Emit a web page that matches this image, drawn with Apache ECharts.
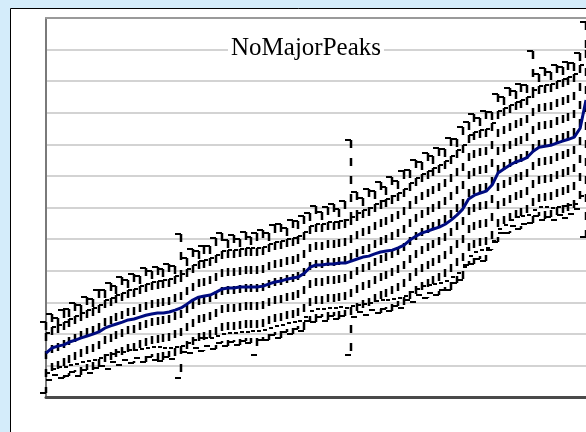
<!DOCTYPE html>
<html>
<head>
<meta charset="utf-8">
<script src="https://cdn.jsdelivr.net/npm/echarts@6/dist/echarts.min.js"></script>
<style>
html,body{margin:0;padding:0;background:#d4ecfa;}
#chart{width:586px;height:432px;}
</style>
</head>
<body>
<div id="chart"></div>
<script>
const categories = ["1","2","3","4","5","6","7","8","9","10","11","12","13","14","15","16","17","18","19","20","21","22","23","24","25","26","27","28","29","30","31","32","33","34","35","36","37","38","39","40","41","42","43","44","45","46","47","48","49","50","51","52","53","54","55","56","57","58","59","60","61","62","63","64","65","66","67","68","69","70","71","72","73","74","75","76","77","78","79","80","81","82","83","84","85","86","87","88","89","90","91","92","93"];

const medianValues = [1.39,1.55,1.61,1.65,1.74,1.80,1.87,1.93,1.99,2.06,
 2.18,2.25,2.31,2.37,2.44,2.47,2.53,2.59,2.63,2.66,
 2.66,2.69,2.75,2.82,2.94,3.07,3.16,3.20,3.23,3.32,
 3.42,3.45,3.45,3.48,3.48,3.48,3.48,3.51,3.58,3.64,
 3.67,3.73,3.77,3.80,3.92,4.11,4.18,4.18,4.21,4.21,
 4.24,4.24,4.30,4.37,4.43,4.46,4.53,4.59,4.62,4.65,
 4.72,4.81,4.97,5.09,5.19,5.25,5.32,5.38,5.47,5.60,
 5.76,5.95,6.27,6.39,6.46,6.52,6.71,7.09,7.22,7.34,
 7.44,7.50,7.59,7.78,7.91,7.94,7.97,8.04,8.10,8.16,
 8.23,8.51,9.40];

const upperValues = [2.02,2.21,2.29,2.36,2.47,2.56,2.66,2.74,2.83,2.92,
 3.07,3.15,3.23,3.30,3.39,3.43,3.51,3.58,3.64,3.68,
 3.70,3.75,3.82,3.91,4.04,4.19,4.30,4.35,4.40,4.50,
 4.62,4.66,4.66,4.70,4.71,4.72,4.72,4.76,4.84,4.90,
 4.94,5.01,5.05,5.09,5.21,5.41,5.49,5.49,5.53,5.53,
 5.57,5.61,5.71,5.82,5.92,6.00,6.11,6.21,6.28,6.35,
 6.46,6.58,6.77,6.93,7.06,7.15,7.25,7.34,7.47,7.63,
 7.82,7.99,8.30,8.40,8.46,8.50,8.67,9.04,9.15,9.26,
 9.34,9.41,9.51,9.71,9.85,9.89,9.92,10.00,10.07,10.14,
 10.22,10.51,11.00];

const lowerValues = [0.76,0.90,0.94,0.95,1.02,1.06,1.11,1.15,1.18,1.23,
 1.33,1.37,1.41,1.44,1.49,1.49,1.52,1.56,1.57,1.58,
 1.55,1.55,1.58,1.62,1.71,1.80,1.86,1.87,1.87,1.93,
 2.00,2.03,2.04,2.07,2.07,2.08,2.08,2.11,2.18,2.25,
 2.28,2.34,2.38,2.41,2.53,2.72,2.79,2.79,2.82,2.82,
 2.85,2.83,2.87,2.92,2.96,2.97,3.03,3.07,3.08,3.09,
 3.14,3.20,3.34,3.43,3.51,3.54,3.58,3.62,3.68,3.79,
 3.92,4.12,4.45,4.58,4.66,4.73,4.93,5.32,5.46,5.59,
 5.70,5.72,5.77,5.93,6.02,6.01,6.00,6.03,6.06,6.08,
 6.11,6.36,6.00];

const maxValues = [2.37,2.62,2.50,2.75,2.80,2.98,2.92,3.18,3.10,3.40,
 3.38,3.62,3.50,3.80,3.72,3.88,3.82,4.08,3.98,4.12,
 4.05,4.22,4.15,5.17,4.40,4.70,4.62,4.78,4.78,5.02,
 5.20,4.98,5.12,5.00,5.22,5.08,5.18,5.30,5.20,5.45,
 5.48,5.35,5.60,5.58,5.72,5.82,6.05,5.85,6.02,6.12,
 5.95,6.20,8.13,6.48,6.30,6.60,6.52,6.80,6.66,6.95,
 6.85,7.15,7.20,7.50,7.45,7.72,7.62,7.88,7.85,8.20,
 8.18,8.55,8.70,8.95,8.82,9.05,9.02,9.58,9.50,9.78,
 9.70,9.92,9.88,10.95,10.22,10.42,10.30,10.52,10.44,10.62,
 10.58,10.90,11.87];

const minValues = [0.13,0.55,0.70,0.60,0.66,0.78,0.68,0.85,0.76,0.92,
 0.98,0.90,1.10,1.02,1.18,1.08,1.22,1.12,1.28,1.18,
 1.15,1.28,1.20,0.60,1.42,1.38,1.55,1.45,1.60,1.52,
 1.70,1.62,1.75,1.66,1.78,1.70,1.33,1.82,1.80,1.95,
 1.88,2.06,1.98,2.14,2.10,2.40,2.38,2.52,2.42,2.56,
 2.46,2.58,1.33,2.52,2.68,2.60,2.76,2.66,2.80,2.72,
 2.88,2.82,3.06,3.02,3.22,3.14,3.30,3.22,3.40,3.38,
 3.60,3.72,4.18,4.20,4.38,4.30,4.66,4.92,5.18,5.20,
 5.40,5.32,5.48,5.52,5.72,5.62,5.70,5.62,5.76,5.68,
 5.80,5.95,5.06];

const titleText = "NoMajorPeaks";

const rangeData = categories.map((c, i) => [i, maxValues[i], upperValues[i], lowerValues[i], minValues[i]]);

function renderRange(params, api) {
  const i = api.value(0);
  const pMax = api.coord([i, api.value(1)]);
  const pHi = api.coord([i, api.value(2)]);
  const pLo = api.coord([i, api.value(3)]);
  const pMin = api.coord([i, api.value(4)]);
  const x = Math.round(pMax[0]);
  const dashStyle = { stroke: '#000', lineWidth: 2.5, lineDash: [8, 10], fill: null };
  const tickStyle = { stroke: '#000', lineWidth: 2, fill: null };
  const yMax = Math.round(pMax[1]), yHi = Math.round(pHi[1]), yLo = Math.round(pLo[1]), yMin = Math.round(pMin[1]);
  return {
    type: 'group',
    children: [
      { type: 'line', shape: { x1: x, y1: yMax, x2: x, y2: yHi }, style: dashStyle },
      { type: 'line', shape: { x1: x, y1: yHi, x2: x, y2: yMin }, style: dashStyle },
      { type: 'line', shape: { x1: x - 6, y1: yMax, x2: x, y2: yMax }, style: tickStyle },
      { type: 'line', shape: { x1: x, y1: yHi, x2: x + 4, y2: yHi }, style: tickStyle },
      { type: 'line', shape: { x1: x, y1: yLo, x2: x + 4, y2: yLo }, style: tickStyle },
      { type: 'line', shape: { x1: x - 6, y1: yMin, x2: x, y2: yMin }, style: tickStyle }
    ]
  };
}

const chart = echarts.init(document.getElementById('chart'), null, { renderer: 'canvas' });
chart.setOption({
  backgroundColor: '#d4ecfa',
  animation: false,
  graphic: [
    { type: 'rect', z: -10, shape: { x: 10.5, y: 8.5, width: 620, height: 480 },
      style: { fill: '#ffffff', stroke: '#000000', lineWidth: 1 } }
  ],
  title: {
    text: titleText,
    left: 228,
    top: 34,
    padding: [2, 3, 2, 3],
    backgroundColor: '#ffffff',
    textStyle: { fontFamily: 'Liberation Serif, Times New Roman, serif', fontSize: 25, fontWeight: 'normal', color: '#000' }
  },
  grid: { left: 46, right: 0, top: 18, bottom: 35 },
  xAxis: [
    { type: 'category', data: categories, boundaryGap: false,
      axisLine: { show: true, lineStyle: { color: '#4a4a4a', width: 3 } },
      axisTick: { show: false }, axisLabel: { show: false }, splitLine: { show: false } },
    { type: 'category', data: categories, boundaryGap: false, position: 'top',
      axisLine: { show: true, lineStyle: { color: '#9a9a9a', width: 2 } },
      axisTick: { show: false }, axisLabel: { show: false }, splitLine: { show: false } }
  ],
  yAxis: {
    type: 'value', min: 0, max: 12, interval: 1,
    axisLine: { show: true, lineStyle: { color: '#7a7a7a', width: 2 } },
    axisTick: { show: false }, axisLabel: { show: false },
    splitLine: { show: true, lineStyle: { color: '#c4c4c4', width: 1.5 } }
  },
  series: [
    { type: 'custom', name: 'range', renderItem: renderRange, data: rangeData, z: 2,
      encode: { x: 0, y: [1, 2, 3, 4] }, clip: false },
    { type: 'line', name: 'median', data: medianValues, symbol: 'none', z: 5,
      lineStyle: { color: '#000c80', width: 3 } }
  ]
});
</script>
</body>
</html>
